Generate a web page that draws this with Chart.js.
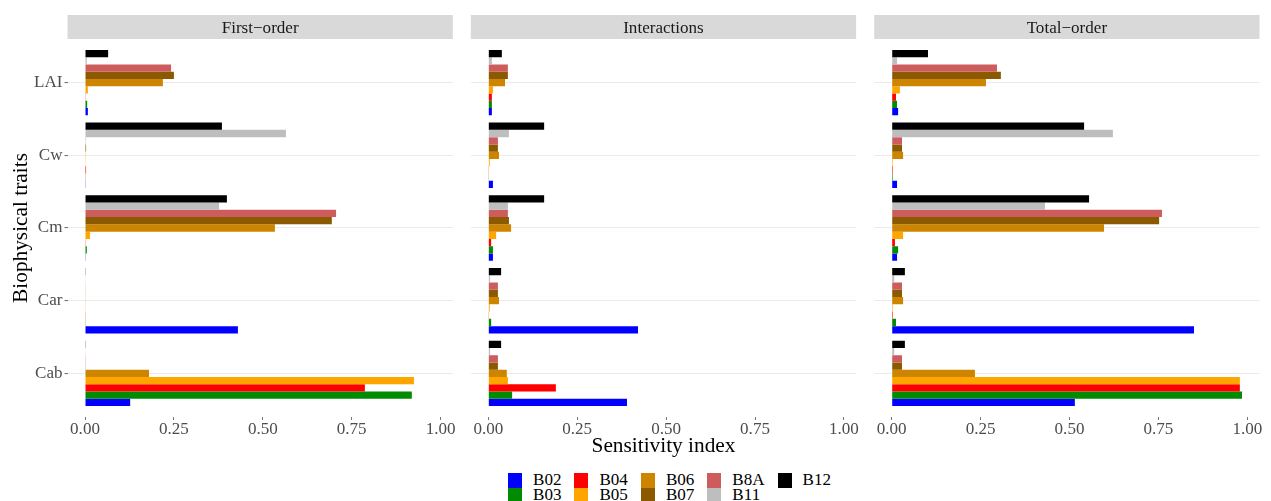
<!DOCTYPE html>
<html>
<head>
<meta charset="utf-8">
<script src="https://cdn.jsdelivr.net/npm/chart.js@4.4.1/dist/chart.umd.min.js"></script>
<style>
  html, body { margin: 0; padding: 0; background: #fff; }
  #wrap { position: relative; width: 1271px; height: 501px; overflow: hidden; font-family: 'Liberation Serif', 'Times New Roman', serif; }
  #wrap canvas { position: absolute; top: 0; }
  #xtitle { position: absolute; left: 0; width: 1327px; top: 435px; text-align: center; font-size: 21.33px; line-height: 21.33px; color: #000; }
  #legend { position: absolute; left: 508px; top: 473px; display: flex; }
  .lcol { display: flex; flex-direction: column; margin-right: 13px; }
  .litem { display: flex; align-items: center; height: 14.7px; }
  .lkey { width: 14px; height: 14.7px; }
  .llab { margin-left: 11px; font-size: 17.07px; line-height: 14.7px; color: #000; white-space: nowrap; }
</style>
</head>
<body>
<div id="wrap">
  <canvas id="p1" width="458" height="445" style="left:0px"></canvas>
  <canvas id="p2" width="400" height="445" style="left:460px"></canvas>
  <canvas id="p3" width="409" height="445" style="left:862px"></canvas>
  <div id="xtitle">Sensitivity index</div>
  <div id="legend"></div>
</div>
<script>
// traits on the y axis, bottom to top
const traits = ['Cab', 'Car', 'Cm', 'Cw', 'LAI'];
const bands = ['B02', 'B03', 'B04', 'B05', 'B06', 'B07', 'B8A', 'B11', 'B12'];
const bandColors = ['#0000FF', '#008B00', '#FF0000', '#FFA500', '#CD8500', '#8B5A00', '#CD5C5C', '#BEBEBE', '#000000'];
const xTicks = [0, 0.25, 0.5, 0.75, 1];
const panelTitles = ['First\u2212order', 'Interactions', 'Total\u2212order'];

// one row per band, values for Cab, Car, Cm, Cw, LAI
const firstOrder = [
  [0.127, 0.430, 0.002, 0.002, 0.008],
  [0.919, 0.002, 0.005, 0.002, 0.006],
  [0.787, 0.002, 0.002, 0.003, 0.002],
  [0.925, 0.001, 0.014, 0.002, 0.008],
  [0.180, 0.001, 0.534, 0.002, 0.219],
  [0.002, 0.001, 0.694, 0.003, 0.250],
  [0.002, 0.001, 0.706, 0.002, 0.242],
  [0.001, 0.001, 0.377, 0.565, 0.005],
  [0.002, 0.002, 0.399, 0.385, 0.065]
];
const interactions = [
  [0.390, 0.421, 0.013, 0.013, 0.010],
  [0.067, 0.008, 0.013, 0.002, 0.010],
  [0.190, 0.002, 0.008, 0.002, 0.010],
  [0.055, 0.004, 0.022, 0.004, 0.013],
  [0.052, 0.030, 0.064, 0.030, 0.047],
  [0.027, 0.027, 0.058, 0.027, 0.055],
  [0.027, 0.027, 0.055, 0.027, 0.055],
  [0.005, 0.005, 0.055, 0.058, 0.010],
  [0.036, 0.036, 0.157, 0.157, 0.038]
];
const totalOrder = [
  [0.515, 0.850, 0.015, 0.015, 0.018],
  [0.985, 0.012, 0.018, 0.003, 0.015],
  [0.979, 0.003, 0.009, 0.003, 0.012],
  [0.979, 0.003, 0.032, 0.003, 0.023],
  [0.234, 0.032, 0.597, 0.032, 0.265],
  [0.029, 0.029, 0.752, 0.029, 0.307],
  [0.029, 0.029, 0.760, 0.029, 0.296],
  [0.007, 0.007, 0.431, 0.622, 0.015],
  [0.037, 0.037, 0.555, 0.541, 0.102]
];

Chart.defaults.font.family = "'Liberation Serif', 'Times New Roman', serif";

// shared x range: data range plus 5% on each side
const allVals = firstOrder.concat(interactions, totalOrder).flat();
const dataMax = Math.max(...allVals);
const xMin = -0.05 * dataMax;
const xMax = dataMax * 1.05;

const stripPlugin = {
  id: 'strip',
  beforeDraw(chart, args, opts) {
    const { ctx, chartArea } = chart;
    ctx.save();
    ctx.fillStyle = '#d9d9d9';
    ctx.fillRect(chartArea.left, 15, chartArea.right - chartArea.left, 24);
    ctx.fillStyle = '#1a1a1a';
    ctx.font = "17.07px 'Liberation Serif', serif";
    ctx.textAlign = 'center';
    ctx.textBaseline = 'alphabetic';
    ctx.fillText(opts.text, (chartArea.left + chartArea.right) / 2, 33.3);
    if (opts.yTitle) {
      ctx.translate(27, (chartArea.top + chartArea.bottom) / 2);
      ctx.rotate(-Math.PI / 2);
      ctx.fillStyle = '#000';
      ctx.font = "21.33px 'Liberation Serif', serif";
      ctx.fillText(opts.yTitle, 0, 0);
    }
    ctx.restore();
  }
};

function makePanel(id, title, values, padLeft, padRight, yWidth, first) {
  // datasets listed top-down inside each trait group
  const datasets = [];
  for (let b = bands.length - 1; b >= 0; b--) {
    datasets.push({
      label: bands[b],
      data: values[b].map((v, i) => ({ x: v, y: i })),
      backgroundColor: bandColors[b],
      borderWidth: 0,
      categoryPercentage: 0.9,
      barPercentage: 1.0
    });
  }
  new Chart(document.getElementById(id), {
    type: 'bar',
    data: { datasets },
    plugins: [stripPlugin],
    options: {
      indexAxis: 'y',
      responsive: false,
      animation: false,
      events: [],
      layout: { padding: { top: 39, left: padLeft, right: padRight, bottom: 0 } },
      plugins: {
        legend: { display: false },
        tooltip: { enabled: false },
        strip: { text: title, yTitle: first ? 'Biophysical traits' : null }
      },
      scales: {
        x: {
          type: 'linear',
          min: xMin,
          max: xMax,
          afterBuildTicks: s => { s.ticks = xTicks.map(v => ({ value: v })); },
          afterFit: s => { s.height = 28; s.paddingLeft = 0; s.paddingRight = 0; },
          grid: { drawOnChartArea: false, drawTicks: true, tickLength: 3, tickColor: '#777' },
          border: { display: false },
          ticks: {
            color: '#4d4d4d',
            font: { size: 17.07, lineHeight: 1 },
            padding: 1,
            maxRotation: 0,
            autoSkip: false,
            callback: v => v.toFixed(2)
          }
        },
        y: {
          type: 'linear',
          min: -0.6,
          max: 4.6,
          offset: false,
          afterBuildTicks: s => { s.ticks = traits.map((t, i) => ({ value: i })); },
          afterFit: s => { s.width = yWidth; s.paddingTop = 0; s.paddingBottom = 0; },
          grid: { offset: false, color: '#ebebeb', lineWidth: 1.1, drawTicks: first, tickLength: 3, tickColor: '#777' },
          border: { display: false },
          ticks: {
            display: first,
            color: '#4d4d4d',
            font: { size: 17.07 },
            padding: 2,
            autoSkip: false,
            callback: v => traits[v]
          }
        }
      }
    }
  });
}

makePanel('p1', panelTitles[0], firstOrder, 0, 5.2, 67.5, true);
makePanel('p2', panelTitles[1], interactions, 10.8, 3.9, 0, false);
makePanel('p3', panelTitles[2], totalOrder, 12.2, 11.5, 0, false);

// legend: two rows, filled column by column
const legend = document.getElementById('legend');
for (let c = 0; c < bands.length; c += 2) {
  const col = document.createElement('div');
  col.className = 'lcol';
  for (let b = c; b < Math.min(c + 2, bands.length); b++) {
    const item = document.createElement('div');
    item.className = 'litem';
    item.innerHTML = `<div class="lkey" style="background:${bandColors[b]}"></div><div class="llab">${bands[b]}</div>`;
    col.appendChild(item);
  }
  legend.appendChild(col);
}
</script>
</body>
</html>
